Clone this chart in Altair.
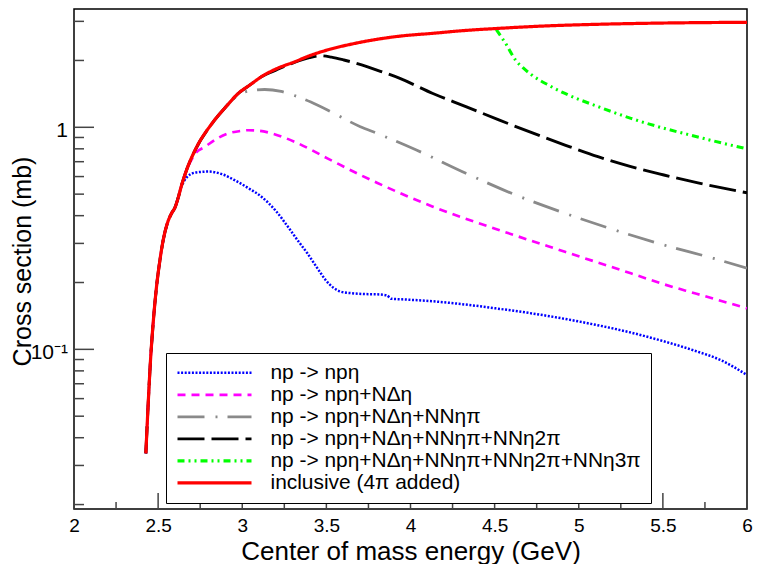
import altair as alt
import pandas as pd

series_names = [
    "np -> npη",
    "np -> npη+NΔη",
    "np -> npη+NΔη+NNηπ",
    "np -> npη+NΔη+NNηπ+NNη2π",
    "np -> npη+NΔη+NNηπ+NNη2π+NNη3π",
    "inclusive (4π added)",
]
colors = ["#0000ff", "#ff00ff", "#8a8a8a", "#000000", "#00ff00", "#ff0000"]
dashes = [[2, 1.6], [8, 6], [27, 11, 2, 10], [27, 7], [7, 4, 2, 4, 2, 4], [1, 0]]
widths = [2.5, 3.2, 3.2, 3.4, 3.2, 3.6]

blue_x = [2.427, 2.44, 2.455, 2.47, 2.49, 2.51, 2.53, 2.555, 2.58, 2.6, 2.615, 2.635, 2.67, 2.72, 2.8, 2.88, 2.96,
          3.04, 3.114, 3.2, 3.271, 3.329, 3.388, 3.427, 3.467, 3.496, 3.54, 3.584, 3.65, 3.722, 3.8, 3.86, 3.885,
          3.95, 4.114, 4.3, 4.506, 4.7, 4.898, 5.1, 5.29, 5.5, 5.682, 5.85, 6.0]
blue_y = [0.034, 0.055, 0.09, 0.13, 0.19, 0.25, 0.31, 0.37, 0.41, 0.435, 0.47, 0.53, 0.595, 0.625, 0.632, 0.615,
          0.575, 0.53, 0.487, 0.42, 0.357, 0.31, 0.27, 0.244, 0.22, 0.205, 0.19, 0.182, 0.179, 0.1775, 0.177, 0.175,
          0.169, 0.168, 0.165, 0.16, 0.153, 0.146, 0.138, 0.129, 0.12, 0.109, 0.099, 0.089, 0.0766]

mag_x = [2.427, 2.44, 2.455, 2.47, 2.49, 2.51, 2.53, 2.555, 2.58, 2.6, 2.615, 2.64, 2.67, 2.692, 2.72, 2.78, 2.85,
         2.918, 2.98, 3.035, 3.1, 3.173, 3.31, 3.506, 3.702, 3.8, 4.133, 4.525, 4.918, 5.31, 5.5, 5.7, 6.0]
mag_y = [0.034, 0.055, 0.09, 0.13, 0.19, 0.25, 0.31, 0.37, 0.41, 0.435, 0.47, 0.55, 0.645, 0.70, 0.76, 0.818, 0.89,
         0.94, 0.96, 0.97, 0.965, 0.94, 0.861, 0.725, 0.61, 0.563, 0.439, 0.345, 0.275, 0.22, 0.197, 0.178, 0.153]

gray_x = [2.427, 2.44, 2.455, 2.47, 2.49, 2.51, 2.53, 2.555, 2.58, 2.6, 2.615, 2.64, 2.67, 2.72, 2.82, 2.9, 2.976,
          3.05, 3.133, 3.231, 3.31, 3.408, 3.545, 3.702, 3.8, 4.035, 4.329, 4.624, 4.918, 5.212, 5.506, 5.8, 6.0]
gray_y = [0.034, 0.055, 0.09, 0.13, 0.19, 0.25, 0.31, 0.37, 0.41, 0.435, 0.47, 0.55, 0.645, 0.79, 1.04, 1.23, 1.40,
          1.46, 1.48, 1.45, 1.39, 1.30, 1.156, 1.006, 0.94, 0.79, 0.621, 0.496, 0.41, 0.345, 0.295, 0.257, 0.232]

black_x = [2.427, 2.44, 2.455, 2.47, 2.49, 2.51, 2.53, 2.555, 2.58, 2.6, 2.615, 2.64, 2.67, 2.72, 2.82, 2.9, 2.976,
           3.05, 3.114, 3.2, 3.31, 3.4, 3.467, 3.53, 3.604, 3.741, 3.8, 3.937, 4.133, 4.329, 4.525, 4.721, 4.918,
           5.114, 5.31, 5.506, 5.702, 6.0]
black_y = [0.034, 0.055, 0.09, 0.13, 0.19, 0.25, 0.31, 0.37, 0.41, 0.435, 0.47, 0.55, 0.645, 0.79, 1.04, 1.23, 1.42,
           1.56, 1.69, 1.81, 1.96, 2.06, 2.10, 2.07, 2.01, 1.875, 1.81, 1.66, 1.42, 1.24, 1.08, 0.946, 0.832,
           0.737, 0.665, 0.61, 0.563, 0.507]

green_x = [4.51, 4.54, 4.565, 4.595, 4.624, 4.67, 4.721, 4.819, 4.918, 5.114, 5.31, 5.506, 5.702, 5.85, 6.0]
green_y = [2.75, 2.55, 2.39, 2.18, 2.01, 1.85, 1.72, 1.55, 1.42, 1.24, 1.097, 0.99, 0.907, 0.85, 0.80]

red_x = [2.427, 2.44, 2.455, 2.47, 2.49, 2.51, 2.53, 2.555, 2.58, 2.6, 2.615, 2.64, 2.67, 2.72, 2.82, 2.9, 2.976,
         3.05, 3.114, 3.2, 3.31, 3.4, 3.506, 3.65, 3.8, 3.95, 4.133, 4.3, 4.525, 4.8, 5.114, 5.4, 5.702, 6.0]
red_y = [0.034, 0.055, 0.09, 0.13, 0.19, 0.25, 0.31, 0.37, 0.41, 0.435, 0.47, 0.55, 0.645, 0.79, 1.04, 1.23, 1.42,
         1.56, 1.69, 1.83, 1.97, 2.1, 2.23, 2.37, 2.49, 2.58, 2.65, 2.72, 2.79, 2.86, 2.91, 2.94, 2.96, 2.97]

x_major = [2, 2.5, 3, 3.5, 4, 4.5, 5, 5.5, 6]
x_minor = [2.25, 2.75, 3.25, 3.75, 4.25, 4.75, 5.25, 5.75]
y_major = [0.1, 1]
y_minor = [0.02, 0.03, 0.04, 0.05, 0.06, 0.07, 0.08, 0.09, 0.2, 0.3, 0.4, 0.5, 0.6, 0.7, 0.8, 0.9, 2, 3]

W, H = 673, 500
FONT = "Liberation Sans"

rows = []
for name, xs, ys in zip(series_names,
                        [blue_x, mag_x, gray_x, black_x, green_x, red_x],
                        [blue_y, mag_y, gray_y, black_y, green_y, red_y]):
    for xv, yv in zip(xs, ys):
        rows.append({"series": name, "E": xv, "sigma": yv})
df = pd.DataFrame(rows)

xscale = alt.Scale(domain=[2, 6], nice=False, zero=False)
yscale = alt.Scale(type="log", domain=[0.0191, 3.41], nice=False)

xaxis = alt.Axis(
    values=x_major, format="~g", ticks=False, tickSize=0, domain=False, grid=False, labelFlush=False,
    labelFontSize=19, labelFont=FONT, labelColor="black", labelPadding=7.5,
    title="Center of mass energy (GeV)", titleFontSize=26, titleFont=FONT,
    titleFontWeight="normal", titleColor="black", titleX=W / 2, titleY=50,
    titleBaseline="alphabetic", titleAlign="center")
yaxis = alt.Axis(
    values=y_major, labelExpr="datum.value == 1 ? '1' : '10⁻¹'",
    ticks=False, tickSize=0, domain=False, grid=False, labelFlush=False,
    labelFontSize=21, labelFont=FONT, labelColor="black", labelPadding=6.5, labelOffset=3,
    title="Cross section (mb)", titleFontSize=25, titleFont=FONT, titleFontWeight="normal",
    titleColor="black", titleX=-43.5, titleY=252, titleAngle=270,
    titleBaseline="alphabetic", titleAlign="center")

legend = alt.Legend(
    title=None, orient="none", legendX=92, legendY=344,
    symbolType="stroke", symbolSize=5476, symbolStrokeWidth=3,
    labelFontSize=20.9, labelFont=FONT, labelColor="black", labelOffset=17, labelLimit=600,
    padding=9.5, strokeColor="black", fillColor="white", rowPadding=0, clipHeight=20.7, cornerRadius=0,
)

lines = alt.Chart(df).mark_line(interpolate="monotone", clip=True).encode(
    x=alt.X("E:Q", scale=xscale, axis=xaxis),
    y=alt.Y("sigma:Q", scale=yscale, axis=yaxis),
    color=alt.Color("series:N", scale=alt.Scale(domain=series_names, range=colors), legend=legend),
    strokeDash=alt.StrokeDash("series:N", scale=alt.Scale(domain=series_names, range=dashes), legend=legend),
    strokeWidth=alt.StrokeWidth("series:N", scale=alt.Scale(domain=series_names, range=widths), legend=None),
)

TICK_COLOR = "#444444"

ymaj = alt.Chart(pd.DataFrame({"sigma": y_major})).mark_rule(color=TICK_COLOR, strokeWidth=1.5).encode(
    y=alt.Y("sigma:Q", scale=yscale, axis=yaxis), x=alt.value(0), x2=alt.value(20))
ymin = alt.Chart(pd.DataFrame({"sigma": y_minor})).mark_rule(color=TICK_COLOR, strokeWidth=1.5).encode(
    y=alt.Y("sigma:Q", scale=yscale, axis=yaxis), x=alt.value(0), x2=alt.value(10))
xmaj = alt.Chart(pd.DataFrame({"E": x_major})).mark_rule(color=TICK_COLOR, strokeWidth=1.5).encode(
    x=alt.X("E:Q", scale=xscale, axis=xaxis), y=alt.value(H), y2=alt.value(H - 16))
xmin = alt.Chart(pd.DataFrame({"E": x_minor})).mark_rule(color=TICK_COLOR, strokeWidth=1.5).encode(
    x=alt.X("E:Q", scale=xscale, axis=xaxis), y=alt.value(H), y2=alt.value(H - 7))

chart = alt.layer(lines, ymaj, ymin, xmaj, xmin).properties(
    width=W, height=H,
    autosize=alt.AutoSizeParams(type="none"),
    padding={"left": 66, "top": 1, "right": 6, "bottom": 55},
).configure(font=FONT).configure_view(stroke="black", strokeWidth=1.5)

chart.save("out.html", embed_options={"renderer": "svg", "actions": False})
